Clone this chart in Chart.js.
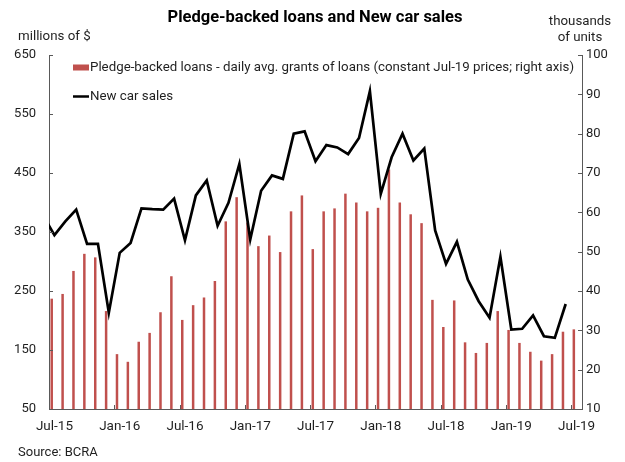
<!DOCTYPE html>
<html>
<head>
<meta charset="utf-8">
<script src="https://cdn.jsdelivr.net/npm/chart.js@4.4.1/dist/chart.umd.min.js"></script>
<style>
    html, body { margin: 0; padding: 0; background: #fff; }
    #wrap { width: 625px; height: 462px; position: relative; }
</style>
</head>
<body>
<div id="wrap"><canvas id="chart"></canvas></div>
<script>
/* ===============================
   DATA
=================================*/

const months = [
    "Jul-15","Aug-15","Sep-15","Oct-15","Nov-15","Dec-15",
    "Jan-16","Feb-16","Mar-16","Apr-16","May-16","Jun-16",
    "Jul-16","Aug-16","Sep-16","Oct-16","Nov-16","Dec-16",
    "Jan-17","Feb-17","Mar-17","Apr-17","May-17","Jun-17",
    "Jul-17","Aug-17","Sep-17","Oct-17","Nov-17","Dec-17",
    "Jan-18","Feb-18","Mar-18","Apr-18","May-18","Jun-18",
    "Jul-18","Aug-18","Sep-18","Oct-18","Nov-18","Dec-18",
    "Jan-19","Feb-19","Mar-19","Apr-19","May-19","Jun-19",
    "Jul-19"
];

// millions of $ (left scale)
const pledgeLoans = [
    237, 245, 284, 313, 307, 216,
    143, 130, 164, 179, 214, 275,
    201, 226, 239, 267, 368, 409,
    366, 326, 344, 316, 385, 412,
    321, 385, 390, 415, 400, 385,
    391, 456, 400, 380, 365, 235,
    189, 234, 163, 145, 162, 216,
    184, 162, 147, 132, 143, 181,
    185
];

// thousands of units (right scale), Jun-15 .. Jun-19
const carSalesStart = -1; // series starts one month before the bars (Jun-15)
const carSales = [
    59.0,
    54.2, 57.7, 60.7, 52.0, 52.0, 34.5,
    49.7, 52.2, 61.0, 60.8, 60.7, 63.5,
    52.9, 64.3, 68.1, 56.6, 62.4, 72.3,
    53.1, 65.5, 69.4, 68.5, 80.0, 80.6,
    73.0, 77.1, 76.5, 74.8, 78.9, 90.8,
    64.7, 74.0, 80.0, 73.2, 76.2, 55.4,
    46.9, 52.5, 42.9, 37.4, 33.2, 48.7,
    30.2, 30.4, 33.8, 28.5, 28.1, 36.7
];

const leftTicks = { min: 50, max: 650, step: 100 };
const rightTicks = { min: 10, max: 100, step: 10 };
const labelEvery = 6;

const FONT = "Roboto";
const TEXT = "#1f1f1f";
const AXIS = "#595959";
const RED = "#C0504D";

/* ===============================
   PLUGINS
=================================*/

// inward tick marks, like the original
const innerTicks = {
    id: "innerTicks",
    afterDatasetsDraw(chart) {
        const { ctx, chartArea: a, scales } = chart;
        ctx.save();
        ctx.strokeStyle = AXIS;
        ctx.lineWidth = 1;
        ctx.beginPath();
        scales.y.ticks.forEach(t => {
            const y = Math.round(scales.y.getPixelForValue(t.value)) + 0.5;
            ctx.moveTo(a.left, y); ctx.lineTo(a.left + 4, y);
        });
        scales.y1.ticks.forEach(t => {
            const y = Math.round(scales.y1.getPixelForValue(t.value)) + 0.5;
            ctx.moveTo(a.right, y); ctx.lineTo(a.right - 4, y);
        });
        for (let i = labelEvery; i < months.length; i += labelEvery) {
            const x = Math.round((scales.x.getPixelForValue(i - 1) + scales.x.getPixelForValue(i)) / 2) + 0.5;
            ctx.moveTo(x, a.bottom); ctx.lineTo(x, a.bottom - 4);
        }
        ctx.stroke();
        ctx.restore();
    }
};

// titles, legend inside the plot, source note
const decorations = {
    id: "decorations",
    afterDraw(chart) {
        const { ctx, chartArea: a } = chart;
        ctx.save();
        ctx.fillStyle = "#000";
        ctx.textBaseline = "middle";

        ctx.font = `bold 16.5px ${FONT}`;
        ctx.textAlign = "center";
        ctx.fillText("Pledge-backed loans and New car sales", 315, 17.5);

        ctx.fillStyle = TEXT;
        ctx.font = `13.3px ${FONT}`;
        ctx.textAlign = "left";
        ctx.fillText("millions of $", 18, 37);
        ctx.textAlign = "center";
        ctx.fillText("thousands", 580, 22);
        ctx.fillText("of units", 580, 38);

        ctx.textAlign = "left";
        ctx.font = `13px ${FONT}`;
        ctx.fillText("Source: BCRA", 18, 452.5);

        // legend
        const ds = chart.data.datasets;
        const lx = a.left + 24;
        ctx.font = `13.3px ${FONT}`;
        ctx.fillStyle = ds[0].backgroundColor;
        ctx.fillRect(lx, 64.5, 16, 6);
        ctx.fillStyle = TEXT;
        ctx.fillText(ds[0].label, lx + 17, 67.5);

        ctx.strokeStyle = ds[1].borderColor;
        ctx.lineWidth = 2.5;
        ctx.beginPath();
        ctx.moveTo(lx, 96.5); ctx.lineTo(lx + 16, 96.5);
        ctx.stroke();
        ctx.fillText(ds[1].label, lx + 17, 96.5);
        ctx.restore();
    }
};

/* ===============================
   CHART
=================================*/

new Chart(document.getElementById("chart"), {
    data: {
        labels: months,
        datasets: [
            {
                type: "bar",
                label: "Pledge-backed loans - daily avg. grants of loans (constant Jul-19 prices; right axis)",
                data: pledgeLoans,
                backgroundColor: RED,
                barPercentage: 0.46,
                categoryPercentage: 1,
                xAxisID: "x",
                yAxisID: "y",
                order: 2
            },
            {
                type: "line",
                label: "New car sales",
                data: carSales.map((v, k) => ({ x: carSalesStart + k, y: v })),
                borderColor: "#000",
                borderWidth: 2.7,
                pointRadius: 0,
                tension: 0,
                clip: 0,
                xAxisID: "xLine",
                yAxisID: "y1",
                order: 1
            }
        ]
    },
    options: {
        responsive: true,
        maintainAspectRatio: false,
        animation: false,
        devicePixelRatio: 1,
        layout: { padding: { top: 55, left: 0, right: 0, bottom: 0 } },
        plugins: {
            legend: { display: false },
            tooltip: { enabled: false }
        },
        scales: {
            x: {
                type: "category",
                offset: true,
                grid: { display: false, drawTicks: false },
                border: { display: true, color: AXIS, width: 1 },
                ticks: {
                    autoSkip: false,
                    maxRotation: 0,
                    padding: 10,
                    color: TEXT,
                    font: { family: FONT, size: 13.5 },
                    callback(val, idx) {
                        return idx % labelEvery === 0 ? this.getLabelForValue(val) : "";
                    }
                },
                afterFit(scale) { scale.height = 53; }
            },
            xLine: {
                type: "linear",
                display: false,
                min: -0.5,
                max: months.length - 0.5
            },
            y: {
                position: "left",
                min: leftTicks.min,
                max: leftTicks.max,
                grid: { display: false, drawTicks: false },
                border: { display: true, color: AXIS, width: 1 },
                ticks: {
                    stepSize: leftTicks.step,
                    padding: 13,
                    color: TEXT,
                    font: { family: FONT, size: 13 }
                },
                afterFit(scale) { scale.width = 49; }
            },
            y1: {
                position: "right",
                min: rightTicks.min,
                max: rightTicks.max,
                grid: { display: false, drawTicks: false },
                border: { display: true, color: AXIS, width: 1 },
                ticks: {
                    stepSize: rightTicks.step,
                    padding: 4,
                    color: TEXT,
                    font: { family: FONT, size: 13 }
                },
                afterFit(scale) { scale.width = 43; }
            }
        }
    },
    plugins: [innerTicks, decorations]
});
</script>
</body>
</html>
